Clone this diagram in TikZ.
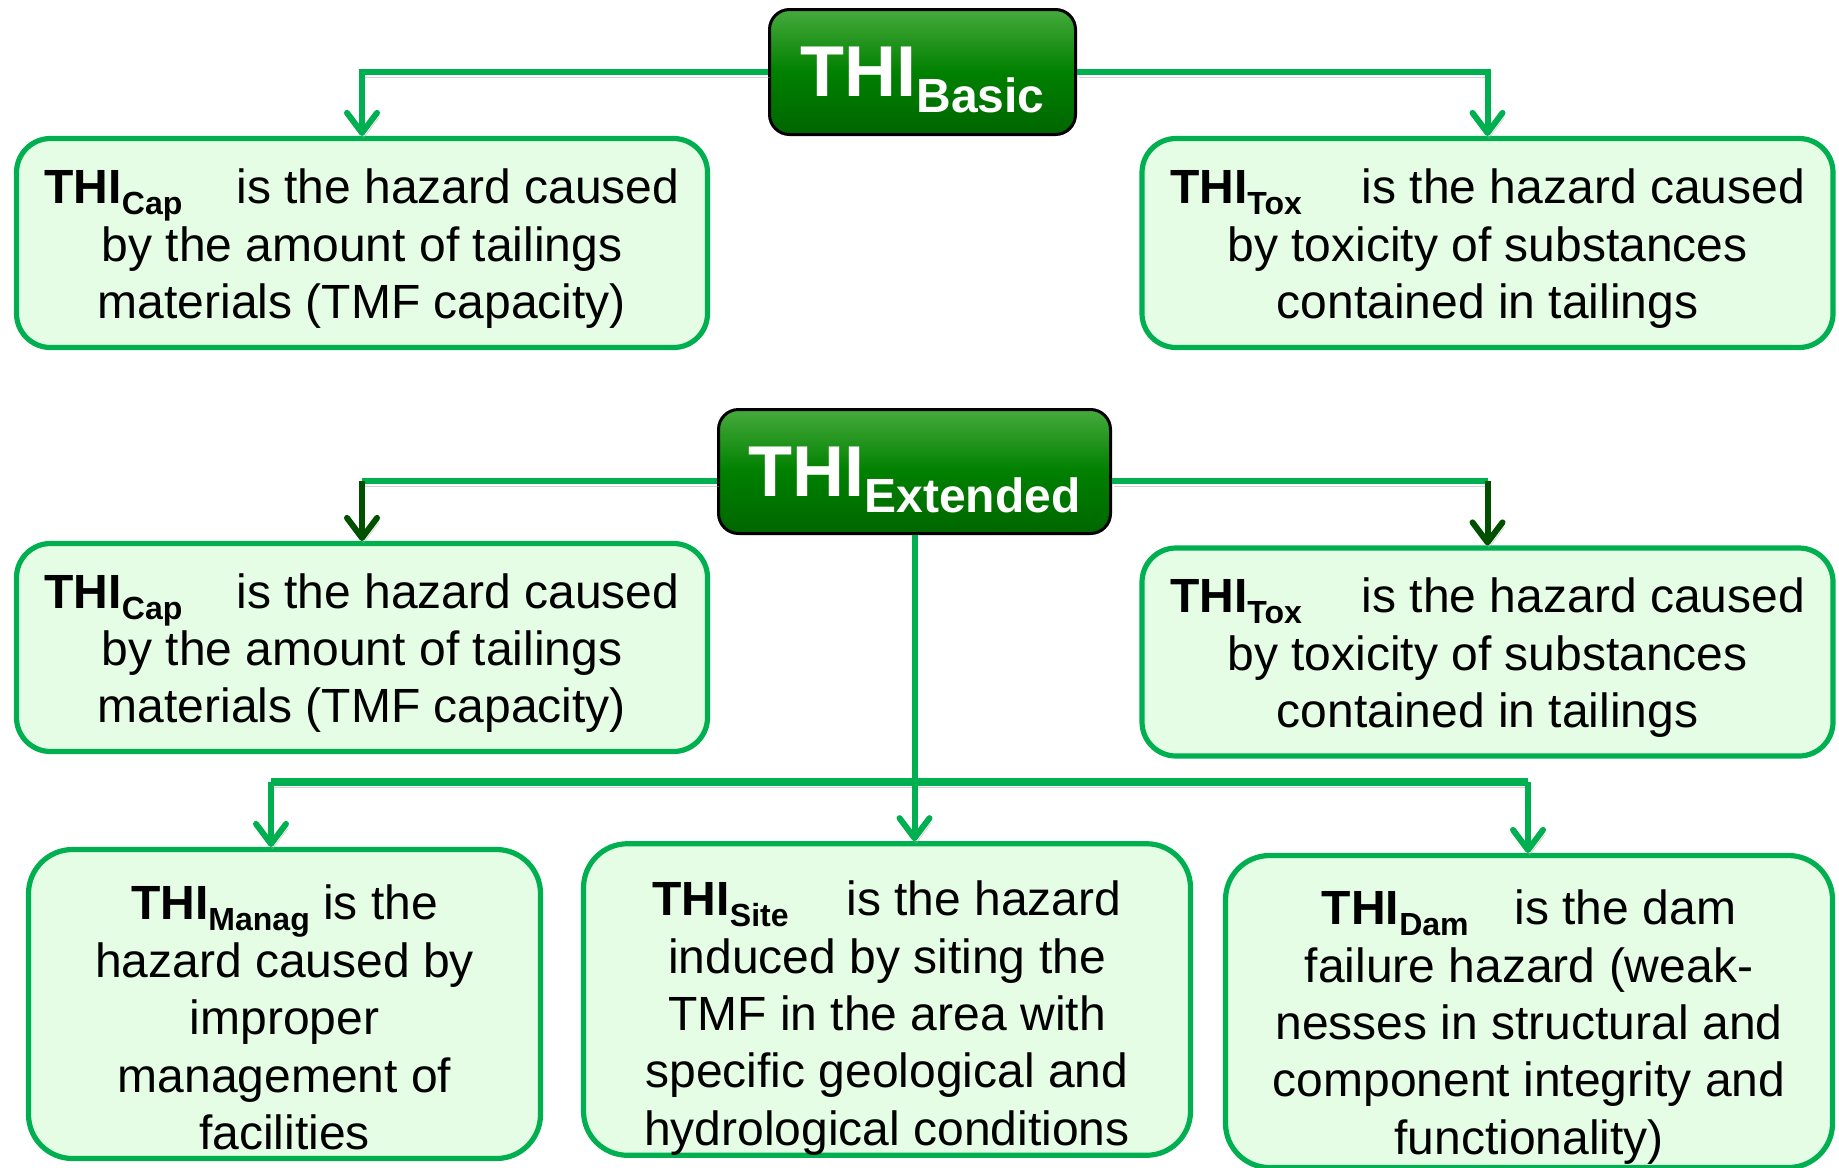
\documentclass[tikz,border=0pt]{standalone}
\usepackage{fontspec}
\setmainfont{Liberation Sans}
\usetikzlibrary{arrows.meta}
\definecolor{boxfill}{RGB}{229,252,229}
\definecolor{linegreen}{RGB}{0,176,80}
\definecolor{deepgreen}{RGB}{0,80,0}
\newcommand{\thi}[1]{\textbf{THI}\raisebox{-5.5pt}{\fontsize{16}{16}\selectfont\bfseries #1}}
\newcommand{\headthi}[1]{\rule{0pt}{33pt}{\fontsize{36}{36}\selectfont THI}\raisebox{-8pt}{\fontsize{24}{24}\selectfont #1}}
\newcommand{\tall}[1][31pt]{\rule{0pt}{#1}}

\begin{document}
\begin{tikzpicture}[x=0.5pt,y=-0.5pt,
  head/.style={draw=black,line width=1.5pt,rounded corners=10pt,
    top color={rgb,255:red,70;green,170;blue,60},bottom color={rgb,255:red,0;green,102;blue,0},
    middle color={rgb,255:red,0;green,128;blue,0},text=white,font=\bfseries,inner sep=0pt},
  info/.style={draw=linegreen,line width=2.6pt,fill=boxfill,rounded corners=17pt,
    align=center,inner sep=0pt,font=\fontsize{24}{28.7}\selectfont},
  lineshadow/.style={preaction={draw=black!35,opacity=0.5,transform canvas={shift={(0.8pt,-2.5pt)}}}},
  link/.style={draw=linegreen,line width=3pt,lineshadow},
  tip/.style={-{Straight Barb[length=10pt,width=15pt,round]}}]
\useasboundingbox (0,0) rectangle (1839,1167);

% basic set
\node[head,minimum width=153pt,minimum height=62.5pt] (basic) at (922.5,72) {\headthi{Basic}};
\node[info,minimum width=345.5pt,minimum height=104.5pt] (cap1) at (362,243)
  {\tall[23pt]\thi{Cap}\hspace{27pt}is the hazard caused\\ by the amount of tailings\\ materials (TMF capacity)};
\node[info,minimum width=345.5pt,minimum height=104.5pt] (tox1) at (1487.5,243)
  {\tall[23pt]\thi{Tox}\hspace{30pt}is the hazard caused\\ by toxicity of substances\\ contained in tailings};

% extended set
\node[head,minimum width=196pt,minimum height=62pt] (ext) at (914.5,471.5) {\headthi{Extended}};
\node[info,minimum width=345.5pt,minimum height=104pt] (cap2) at (362,647.5)
  {\tall[23pt]\thi{Cap}\hspace{27pt}is the hazard caused\\ by the amount of tailings\\ materials (TMF capacity)};
\node[info,minimum width=345.5pt,minimum height=104pt] (tox2) at (1487.5,652)
  {\tall[23pt]\thi{Tox}\hspace{30pt}is the hazard caused\\ by toxicity of substances\\ contained in tailings};
\node[info,rounded corners=22pt,minimum width=256pt,minimum height=154.5pt] (manag) at (284.5,1004)
  {\tall\thi{Manag} is the\\ hazard caused by\\ improper\\ management of\\ facilities};
\node[info,rounded corners=22pt,minimum width=303.5pt,minimum height=153pt] (site) at (887,999.5)
  {\tall[36pt]\thi{Site}\hspace{29pt}is the hazard\\ induced by siting the\\ TMF in the area with\\ specific geological and\\ hydrological conditions};
\node[info,rounded corners=22pt,minimum width=303.5pt,minimum height=156pt] (dam) at (1529,1011.5)
  {\tall[33pt]\thi{Dam}\hspace{23pt}is the dam\\ failure hazard (weak-\\ nesses in structural and\\ component integrity and\\ functionality)};

% connectors
\draw[link,tip] (basic.west) -| (cap1.north);
\draw[link,tip] (basic.east) -| (tox1.north);
\coordinate (extL) at ([yshift=-4.75pt]ext.west);
\coordinate (extR) at ([yshift=-4.75pt]ext.east);
\draw[link] (extL) -- (extL -| cap2.north);
\draw[link] (extR) -- (extR -| tox2.north);
\draw[link,draw=deepgreen,tip] (extL -| cap2.north) -- (cap2.north);
\draw[link,draw=deepgreen,tip] (extR -| tox2.north) -- (tox2.north);
\coordinate (barL) at (271,782);
\coordinate (barR) at (1528,782);
\draw[link,line width=3.6pt] (barL) -- (barR);
\draw[link,tip] (ext.south) -- (ext.south |- site.north);
\draw[link,tip] (barL) -- (barL |- manag.north);
\draw[link,tip] (barR) -- (barR |- dam.north);
\end{tikzpicture}
\end{document}
